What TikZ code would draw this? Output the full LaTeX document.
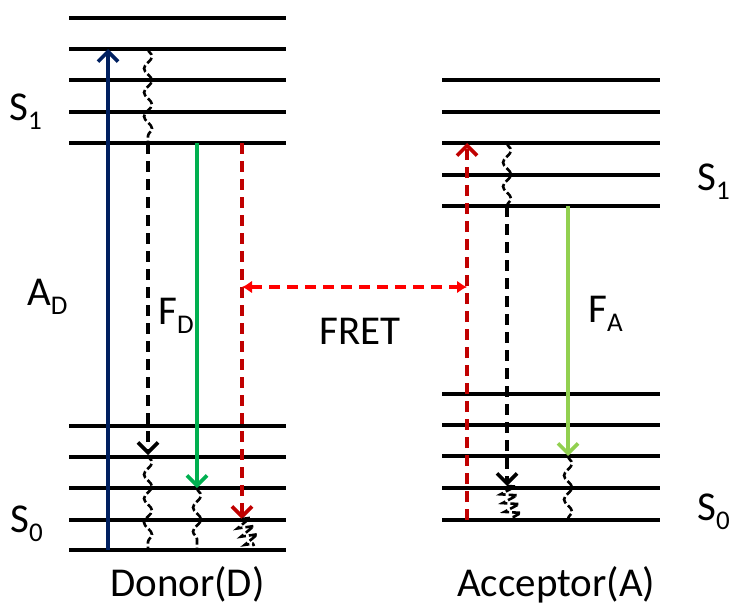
\documentclass[tikz,border=0pt]{standalone}
\usepackage{fontspec}
\setmainfont{Carlito}
\usepackage{tikz}
\usetikzlibrary{arrows.meta,positioning}
\usetikzlibrary{decorations.pathmorphing}

\definecolor{absblue}{HTML}{002060}
\definecolor{fluogreen}{HTML}{00B050}
\definecolor{fluolime}{HTML}{92D050}
\definecolor{etred}{HTML}{C00000}
\definecolor{fretred}{HTML}{FF0000}

% lowered index for the state and rate labels
\newcommand{\subtxt}[1]{\raisebox{-9pt}{\fontsize{27}{27}\selectfont #1}}

\begin{document}
\begin{tikzpicture}[x=1pt,y=-1pt,
    eline/.style={line width=3.6pt, black},
    radarrow/.style={line width=3.4pt, -{Straight Barb[length=10pt,width=20pt,line width=3.6pt]}},
    dashline/.style={dash pattern=on 11pt off 7pt},
    vibrelax/.style={line width=2.6pt, dash pattern=on 7pt off 3pt, decorate,
        decoration={snake, amplitude=4pt, segment length=24pt}},
    wideRelax/.style={line width=2.6pt, dash pattern=on 8pt off 3pt, decorate,
        decoration={zigzag, amplitude=8pt, segment length=9pt}},
    lbl/.style={font=\fontsize{41}{44}\selectfont, inner sep=0pt, anchor=base west}]
    \useasboundingbox (0,0) rectangle (743,607);

    % energy levels of donor and acceptor
    \foreach \y in {18,49,80,112,143,426,457,488,520,550}
        \draw[eline] (69,\y) -- (286,\y);
    \foreach \y in {80,112,143,175,206,394,425,456,488,520}
        \draw[eline] (442,\y) -- (660,\y);

    % donor side
    \coordinate (absD-bot) at (108,550);
    \coordinate (absD-top) at (108,49);
    \coordinate (vrD-top)  at (148,49);
    \coordinate (vrD-mid)  at (148,143);
    \coordinate (icD-end)  at (148,455);
    \coordinate (vrD-bot)  at (148,550);
    \coordinate (flD-top)  at (197,143);
    \coordinate (flD-end)  at (197,488);
    \coordinate (flD-bot)  at (197,550);
    \coordinate (etD-top)  at (242,143);
    \coordinate (etD-end)  at (242,519);
    \coordinate (etD-bot)  at (254,546);
    \coordinate (fretD)    at (242,287);

    % acceptor side
    \coordinate (fretA)    at (467,287);
    \coordinate (etA-bot)  at (467,520);
    \coordinate (etA-top)  at (467,143);
    \coordinate (vrA-top)  at (507,143);
    \coordinate (vrA-mid)  at (507,206);
    \coordinate (icA-end)  at (507,486);
    \coordinate (vrA-bot)  at (514,518);
    \coordinate (flA-top)  at (568,206);
    \coordinate (flA-end)  at (568,456);
    \coordinate (flA-bot)  at (568,520);

    \draw[radarrow, absblue] (absD-bot) -- (absD-top);
    \draw[vibrelax] (vrD-top) -- (vrD-mid);
    \draw[radarrow, dashline] (vrD-mid) -- (icD-end);
    \draw[vibrelax] (icD-end) -- (vrD-bot);
    \draw[radarrow, fluogreen] (flD-top) -- (flD-end);
    \draw[vibrelax] (flD-end) -- (flD-bot);
    \draw[radarrow, dashline, etred] (etD-top) -- (etD-end);
    \draw[wideRelax] (etD-end) -- (etD-bot);

    \draw[line width=3.4pt, dashline, fretred, {Latex[length=10pt,width=13pt]}-{Latex[length=10pt,width=13pt]}] (fretD) -- (fretA);

    \draw[radarrow, dashline, etred] (etA-bot) -- (etA-top);
    \draw[vibrelax] (vrA-top) -- (vrA-mid);
    \draw[radarrow, dashline] (vrA-mid) -- (icA-end);
    \draw[wideRelax] (icA-end) -- (vrA-bot);
    \draw[radarrow, fluolime] (flA-top) -- (flA-end);
    \draw[vibrelax] (flA-end) -- (flA-bot);

    % labels
    \node[lbl] (s1Donor)  at (9,121)   {S\subtxt{1}};
    \node[lbl] (s0Donor)  at (10,532)  {S\subtxt{0}};
    \node[lbl] (absLabel) at (27,305)  {A\subtxt{D}};
    \node[lbl] (flDLabel) at (158,324) {F\subtxt{D}};
    \node[lbl] (fretLabel) at (319,344) {FRET};
    \node[lbl] (flALabel) at (588,322) {F\subtxt{A}};
    \node[lbl] (s1Acc)    at (697,190) {S\subtxt{1}};
    \node[lbl] (s0Acc)    at (697,520) {S\subtxt{0}};
    \node[lbl] (donorName) at (110,596) {Donor(D)};
    \node[lbl] (accName)  at (457,596) {Acceptor(A)};
\end{tikzpicture}
\end{document}
